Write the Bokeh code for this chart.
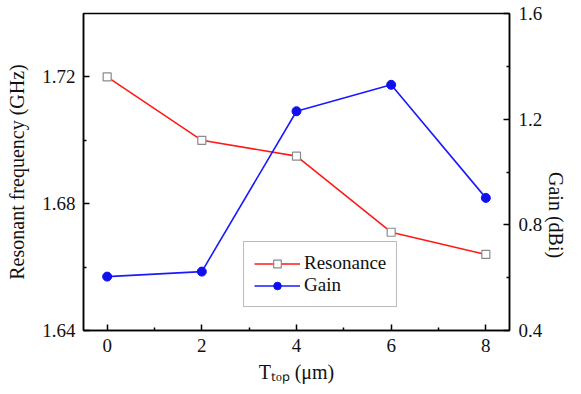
import math
from bokeh.plotting import figure
from bokeh.models import (Range1d, LinearAxis, FixedTicker, Legend, LegendItem)
from bokeh.embed import file_html
from bokeh.resources import INLINE

# data
t_top = [0, 2, 4, 6, 8]
resonance = [1.720, 1.700, 1.695, 1.671, 1.664]
gain = [0.604, 0.623, 1.230, 1.330, 0.902]

x_ticks = [0, 2, 4, 6, 8]
x_minor = [1, 3, 5, 7]
left_ticks = [1.64, 1.68, 1.72]
left_minor = [1.66, 1.70]
right_ticks = [0.4, 0.8, 1.2, 1.6]
right_minor = [0.6, 1.0, 1.4]

FONT = "Liberation Serif"

p = figure(width=581, height=394, output_backend="svg", toolbar_location=None,
           x_range=Range1d(-0.5, 8.5), y_range=Range1d(1.64, 1.74),
           min_border_left=83, min_border_right=67, min_border_top=13,
           min_border_bottom=64)
p.extra_y_ranges = {"gain": Range1d(0.4, 1.6)}
p.grid.visible = False
p.background_fill_color = "white"
p.border_fill_color = "white"
p.outline_line_color = "black"
p.outline_line_width = 1.5

right = LinearAxis(y_range_name="gain")
p.add_layout(right, "right")

def style(ax, ticks, minor):
    ax.ticker = FixedTicker(ticks=ticks, minor_ticks=minor)
    ax.axis_line_color = "black"
    ax.axis_line_width = 1.5
    ax.major_tick_in = 6
    ax.major_tick_out = 0
    ax.minor_tick_in = 3
    ax.minor_tick_out = 0
    ax.major_tick_line_color = "black"
    ax.major_tick_line_width = 1.5
    ax.minor_tick_line_color = "black"
    ax.minor_tick_line_width = 1.5
    ax.major_label_text_font = FONT
    ax.major_label_text_font_size = "19px"
    ax.major_label_text_color = "#111111"
    ax.axis_label_text_font = FONT
    ax.axis_label_text_font_size = "20px"
    ax.axis_label_text_font_style = "normal"
    ax.axis_label_text_color = "#111111"

xa = p.xaxis[0]
style(xa, x_ticks, x_minor)
xa.major_label_standoff = 8
xa.axis_label = "T\u209c\u2092\u209a (\u03bcm)"
xa.axis_label_standoff = 6

la = p.yaxis[0]
style(la, left_ticks, left_minor)
la.major_label_standoff = 8
la.axis_label = "Resonant frequency (GHz)"
la.axis_label_standoff = 11

style(right, right_ticks, right_minor)
right.major_label_standoff = 9
right.axis_label = "Gain (dBi)"
right.axis_label_standoff = 11
right.axis_label_orientation = -math.pi / 2

# series
r_line = p.line(t_top, resonance, line_color="#ff1a1a", line_width=1.6)
r_pts = p.scatter(t_top, resonance, marker="square", size=8, fill_color="white",
                  line_color="#8a8a8a", line_width=1.2)
g_line = p.line(t_top, gain, y_range_name="gain", line_color="#1a1aff", line_width=1.6)
g_pts = p.scatter(t_top, gain, y_range_name="gain", marker="circle", size=9,
                  fill_color="#1010ee", line_color="#1010ee")

legend = Legend(items=[LegendItem(label="Resonance", renderers=[r_line, r_pts]),
                       LegendItem(label="Gain", renderers=[g_line, g_pts])],
                location=(160, 23))
legend.border_line_color = "#777777"
legend.border_line_width = 1
legend.background_fill_color = "white"
legend.background_fill_alpha = 1
legend.padding = 10
legend.spacing = 0
legend.glyph_width = 46
legend.glyph_height = 19
legend.label_height = 19
legend.label_standoff = 4
legend.label_text_font = FONT
legend.label_text_font_size = "19px"
legend.label_text_color = "#111111"
legend.margin = 0
p.add_layout(legend, "center")

open("out.html", "w").write(file_html(p, INLINE))
